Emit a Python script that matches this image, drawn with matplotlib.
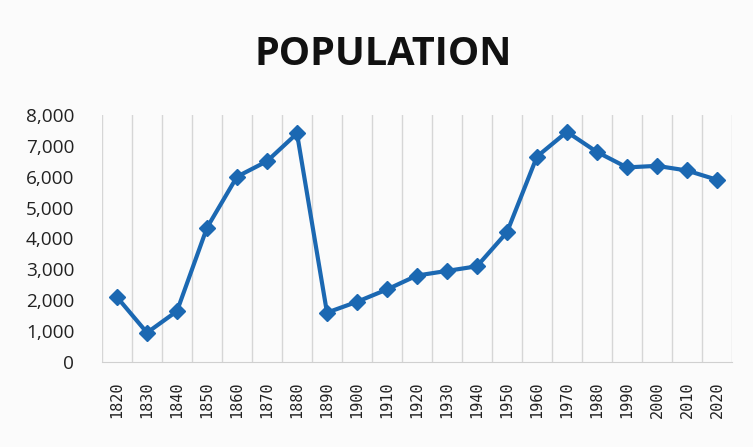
import numpy as np
import matplotlib.pyplot as plt

plt.rcParams['font.family'] = ['Open Sans', 'DejaVu Sans']

years = ['1820', '1830', '1840', '1850', '1860', '1870', '1880', '1890', '1900', '1910', '1920',
         '1930', '1940', '1950', '1960', '1970', '1980', '1990', '2000', '2010', '2020']
population = [2100, 950, 1650, 4350, 6000, 6500, 7400, 1600, 1950, 2350, 2800,
              2950, 3100, 4200, 6650, 7450, 6800, 6300, 6350, 6200, 5900]
yticks = [0, 1000, 2000, 3000, 4000, 5000, 6000, 7000, 8000]

fig = plt.figure(figsize=(7.53, 4.47), dpi=100)
fig.patch.set_facecolor('#fbfbfb')
ax = fig.add_axes([0.1355, 0.19, 0.8365, 0.553])
ax.set_facecolor('#fbfbfb')

x = np.arange(len(years))
ax.plot(x, population, color='#1b68b2', linewidth=3, marker='D', markersize=8.5,
        markerfacecolor='#1b68b2', markeredgecolor='#1b68b2', zorder=3)

ax.set_xlim(-0.5, len(years) - 0.5)
ax.set_ylim(0, 8000)
ax.set_yticks(yticks)
ax.set_yticklabels([format(v, ',') for v in yticks], fontsize=13.7, color='#222222')
ax.set_xticks(x)
ax.set_xticklabels(years, rotation=90, fontsize=11, family='DejaVu Sans Mono', color='#222222')
ax.tick_params(axis='both', length=0)
ax.tick_params(axis='x', pad=14)
ax.tick_params(axis='y', pad=20)

# vertical gridlines between categories
for b in np.arange(-0.5, len(years), 1.0):
    ax.axvline(b, color='#d6d6d6', linewidth=1, zorder=1)

for s in ['top', 'right', 'left']:
    ax.spines[s].set_visible(False)
ax.spines['bottom'].set_color('#d0d0d0')

fig.text(0.509, 0.877, 'POPULATION', ha='center', va='center', fontsize=28.5,
         fontweight='bold', color='#111111')

fig.savefig('out.png', dpi=100, facecolor=fig.get_facecolor())
